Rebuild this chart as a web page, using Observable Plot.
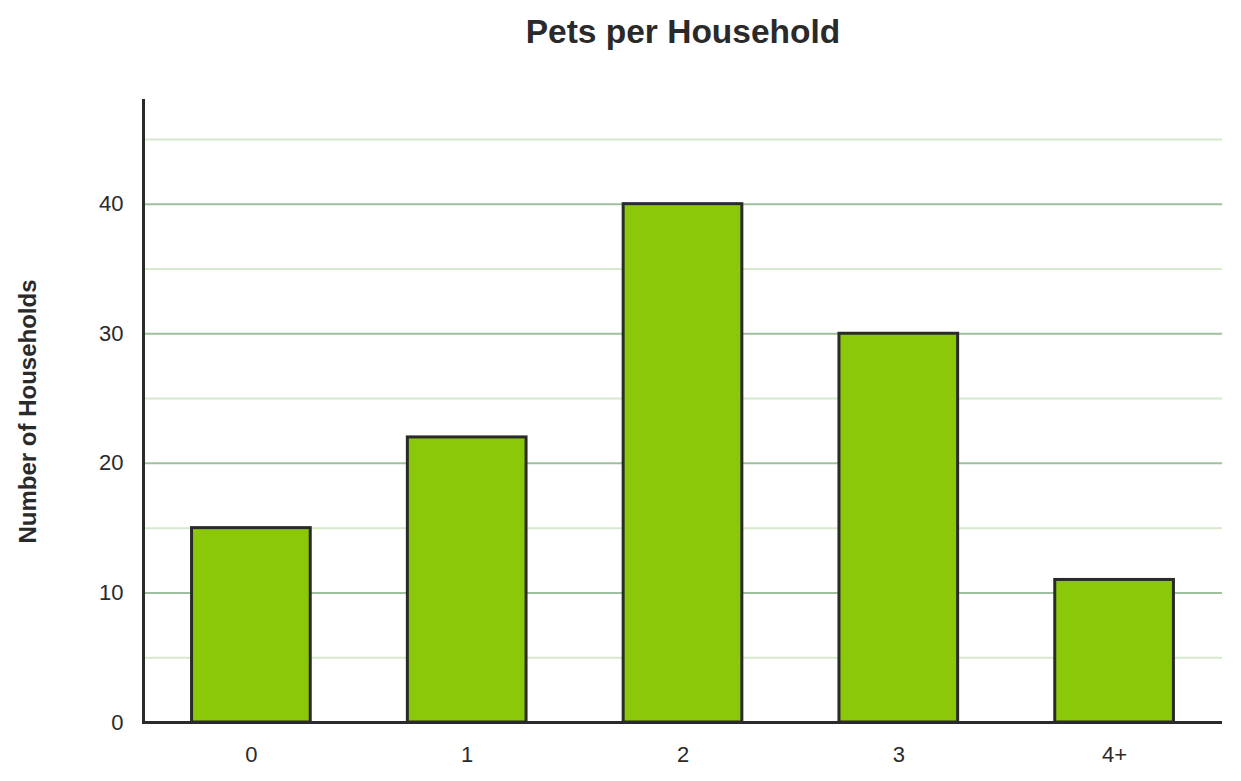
<!DOCTYPE html>
<html>
<head>
<meta charset="utf-8">
<script src="https://cdn.jsdelivr.net/npm/d3@7"></script>
<script src="https://cdn.jsdelivr.net/npm/@observablehq/plot@0.6"></script>
<style>
  html, body { margin: 0; padding: 0; background: #fff; }
  body { width: 1241px; height: 781px; overflow: hidden; font-family: "Liberation Sans", Arial, sans-serif; }
  #title { height: 64px; line-height: 64px; text-align: center; font-size: 33.5px; font-weight: bold; color: #2a2a2a; padding-left: 125px; box-sizing: border-box; }
</style>
</head>
<body>
<div id="title">Pets per Household</div>
<div id="chart"></div>
<script>
const categories = ["0", "1", "2", "3", "4+"];
const households = [15, 22, 40, 30, 11];
const majorTicks = [0, 10, 20, 30, 40];
const gridMajor = [10, 20, 30, 40];
const gridMinor = [5, 15, 25, 35, 45];

const data = categories.map((c, i) => ({pets: c, count: households[i]}));

const chart = Plot.plot({
  width: 1241,
  height: 717,
  marginTop: 36,
  marginBottom: 59,
  marginLeft: 143,
  marginRight: 19,
  style: {fontFamily: "Liberation Sans, Arial, sans-serif", fontSize: "22px", color: "#2a2a2a", background: "#fff"},
  x: {domain: categories, paddingInner: 0.45, paddingOuter: 0.225, round: false, label: null},
  y: {domain: [0, 48], label: null},
  marks: [
    Plot.ruleY(gridMinor, {stroke: "#d6e9cd", strokeWidth: 2}),
    Plot.ruleY(gridMajor, {stroke: "#9dc19d", strokeWidth: 2}),
    Plot.barY(data, {x: "pets", y: "count", fill: "#8bc80a", stroke: "#2a2a2a", strokeWidth: 3}),
    Plot.axisY({ticks: majorTicks, tickSize: 0, tickPadding: 20, label: null, fill: "#2a2a2a", fontSize: 22}),
    Plot.axisX({tickSize: 0, tickPadding: 24, label: null, fill: "#2a2a2a", fontSize: 22}),
    Plot.frame({anchor: "left", stroke: "#2a2a2a", strokeWidth: 3}),
    Plot.ruleY([0], {stroke: "#2a2a2a", strokeWidth: 3}),
    Plot.text(["Number of Households"], {
      frameAnchor: "left", dx: -115, rotate: -90, textAnchor: "middle", fontWeight: "bold", fontSize: 24, fill: "#2a2a2a"
    })
  ]
});
document.getElementById("chart").appendChild(chart);
</script>
</body>
</html>
